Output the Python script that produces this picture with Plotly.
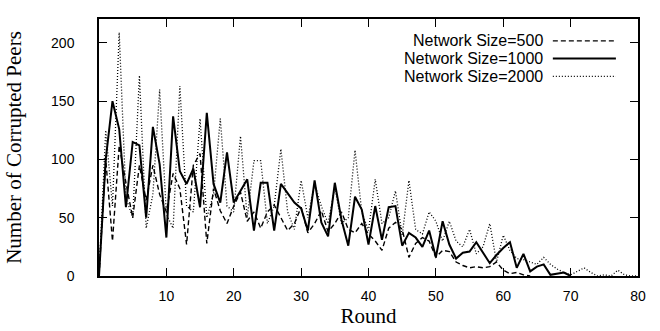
import plotly.graph_objects as go

rounds = list(range(0, 81))

size_500 = [0, 100, 30, 112, 80, 50, 95, 65, 95, 70,
            55, 88, 75, 27, 95, 105, 28, 75, 56, 45,
            60, 72, 47, 55, 41, 55, 61, 50, 39, 45,
            59, 37, 45, 56, 38, 45, 55, 40, 37, 45,
            36, 30, 22, 41, 46, 40, 16, 28, 33, 30,
            16, 22, 21, 12, 9, 7, 8, 7, 8, 12,
            5, 2, 3, 1, 0] + [None] * 16

size_1000 = [0, 100, 150, 126, 59, 115, 112, 50, 128, 96,
             33, 137, 90, 79, 92, 59, 140, 79, 63, 106,
             63, 73, 83, 39, 80, 80, 39, 79, 71, 63,
             58, 39, 82, 46, 34, 80, 48, 26, 68, 57,
             27, 60, 31, 59, 60, 26, 37, 33, 25, 39,
             16, 47, 27, 15, 20, 21, 29, 20, 11, 18,
             24, 29, 7, 19, 4, 8, 10, 1, 2, 3,
             0] + [None] * 10

size_2000 = [0, 125, 60, 209, 67, 50, 172, 41, 70, 160,
             53, 41, 163, 60, 55, 135, 50, 70, 135, 60,
             55, 120, 50, 99, 99, 45, 60, 109, 55, 40,
             82, 50, 79, 60, 45, 76, 45, 50, 108, 55,
             39, 83, 45, 50, 73, 35, 82, 40, 36, 55,
             47, 30, 47, 30, 25, 40, 19, 25, 45, 12,
             35, 22, 15, 14, 12, 10, 16, 10, 6, 3,
             1, 4, 7, 3, 0, 1, 0, 5, 1, 0, 0]

series_names = ["Network Size=500", "Network Size=1000", "Network Size=2000"]
x_ticks = [10, 20, 30, 40, 50, 60, 70, 80]
y_ticks = [0, 50, 100, 150, 200]

styles = [dict(color="black", width=1.4, dash="5px,3px"),
          dict(color="black", width=2.0, dash="solid"),
          dict(color="black", width=1.3, dash="1px,2px")]

fig = go.Figure()
for name, ys, st in zip(series_names, [size_500, size_1000, size_2000], styles):
    fig.add_trace(go.Scatter(x=rounds, y=ys, mode="lines", name=name,
                             line=st, showlegend=False, connectgaps=False))

# manual legend (text on the left, sample on the right)
leg_y = [0.915, 0.846, 0.777]
for name, st, yy in zip(series_names, styles, leg_y):
    fig.add_annotation(xref="paper", yref="paper", x=0.826, y=yy, text=name,
                       showarrow=False, xanchor="right", yanchor="middle",
                       borderpad=0,
                       font=dict(family="Liberation Sans, Arial", size=16, color="black"))
    fig.add_shape(type="line", xref="paper", yref="paper", x0=0.842, x1=0.959,
                  y0=yy, y1=yy, line=st)

axis_common = dict(showline=True, linecolor="black", linewidth=1.5, mirror="ticks",
                   ticks="inside", ticklen=8, tickwidth=1.2, tickcolor="black",
                   showgrid=False, zeroline=False,
                   tickfont=dict(family="Liberation Sans, Arial", size=14, color="black"))

fig.update_xaxes(range=[0, 80], tickvals=x_ticks, ticklabelstandoff=6,
                 title=dict(text="Round", standoff=2,
                            font=dict(family="Liberation Serif, Times New Roman", size=21, color="black")),
                 **axis_common)
fig.update_yaxes(range=[0, 220.5], tickvals=y_ticks, ticklabelstandoff=20,
                 title=dict(text="Number of Corrupted Peers", standoff=24,
                            font=dict(family="Liberation Serif, Times New Roman", size=21, color="black")),
                 **axis_common)

fig.update_layout(width=660, height=331, margin=dict(l=99, r=22, t=19, b=55),
                  plot_bgcolor="white", paper_bgcolor="white")

fig.write_html("out.html")
